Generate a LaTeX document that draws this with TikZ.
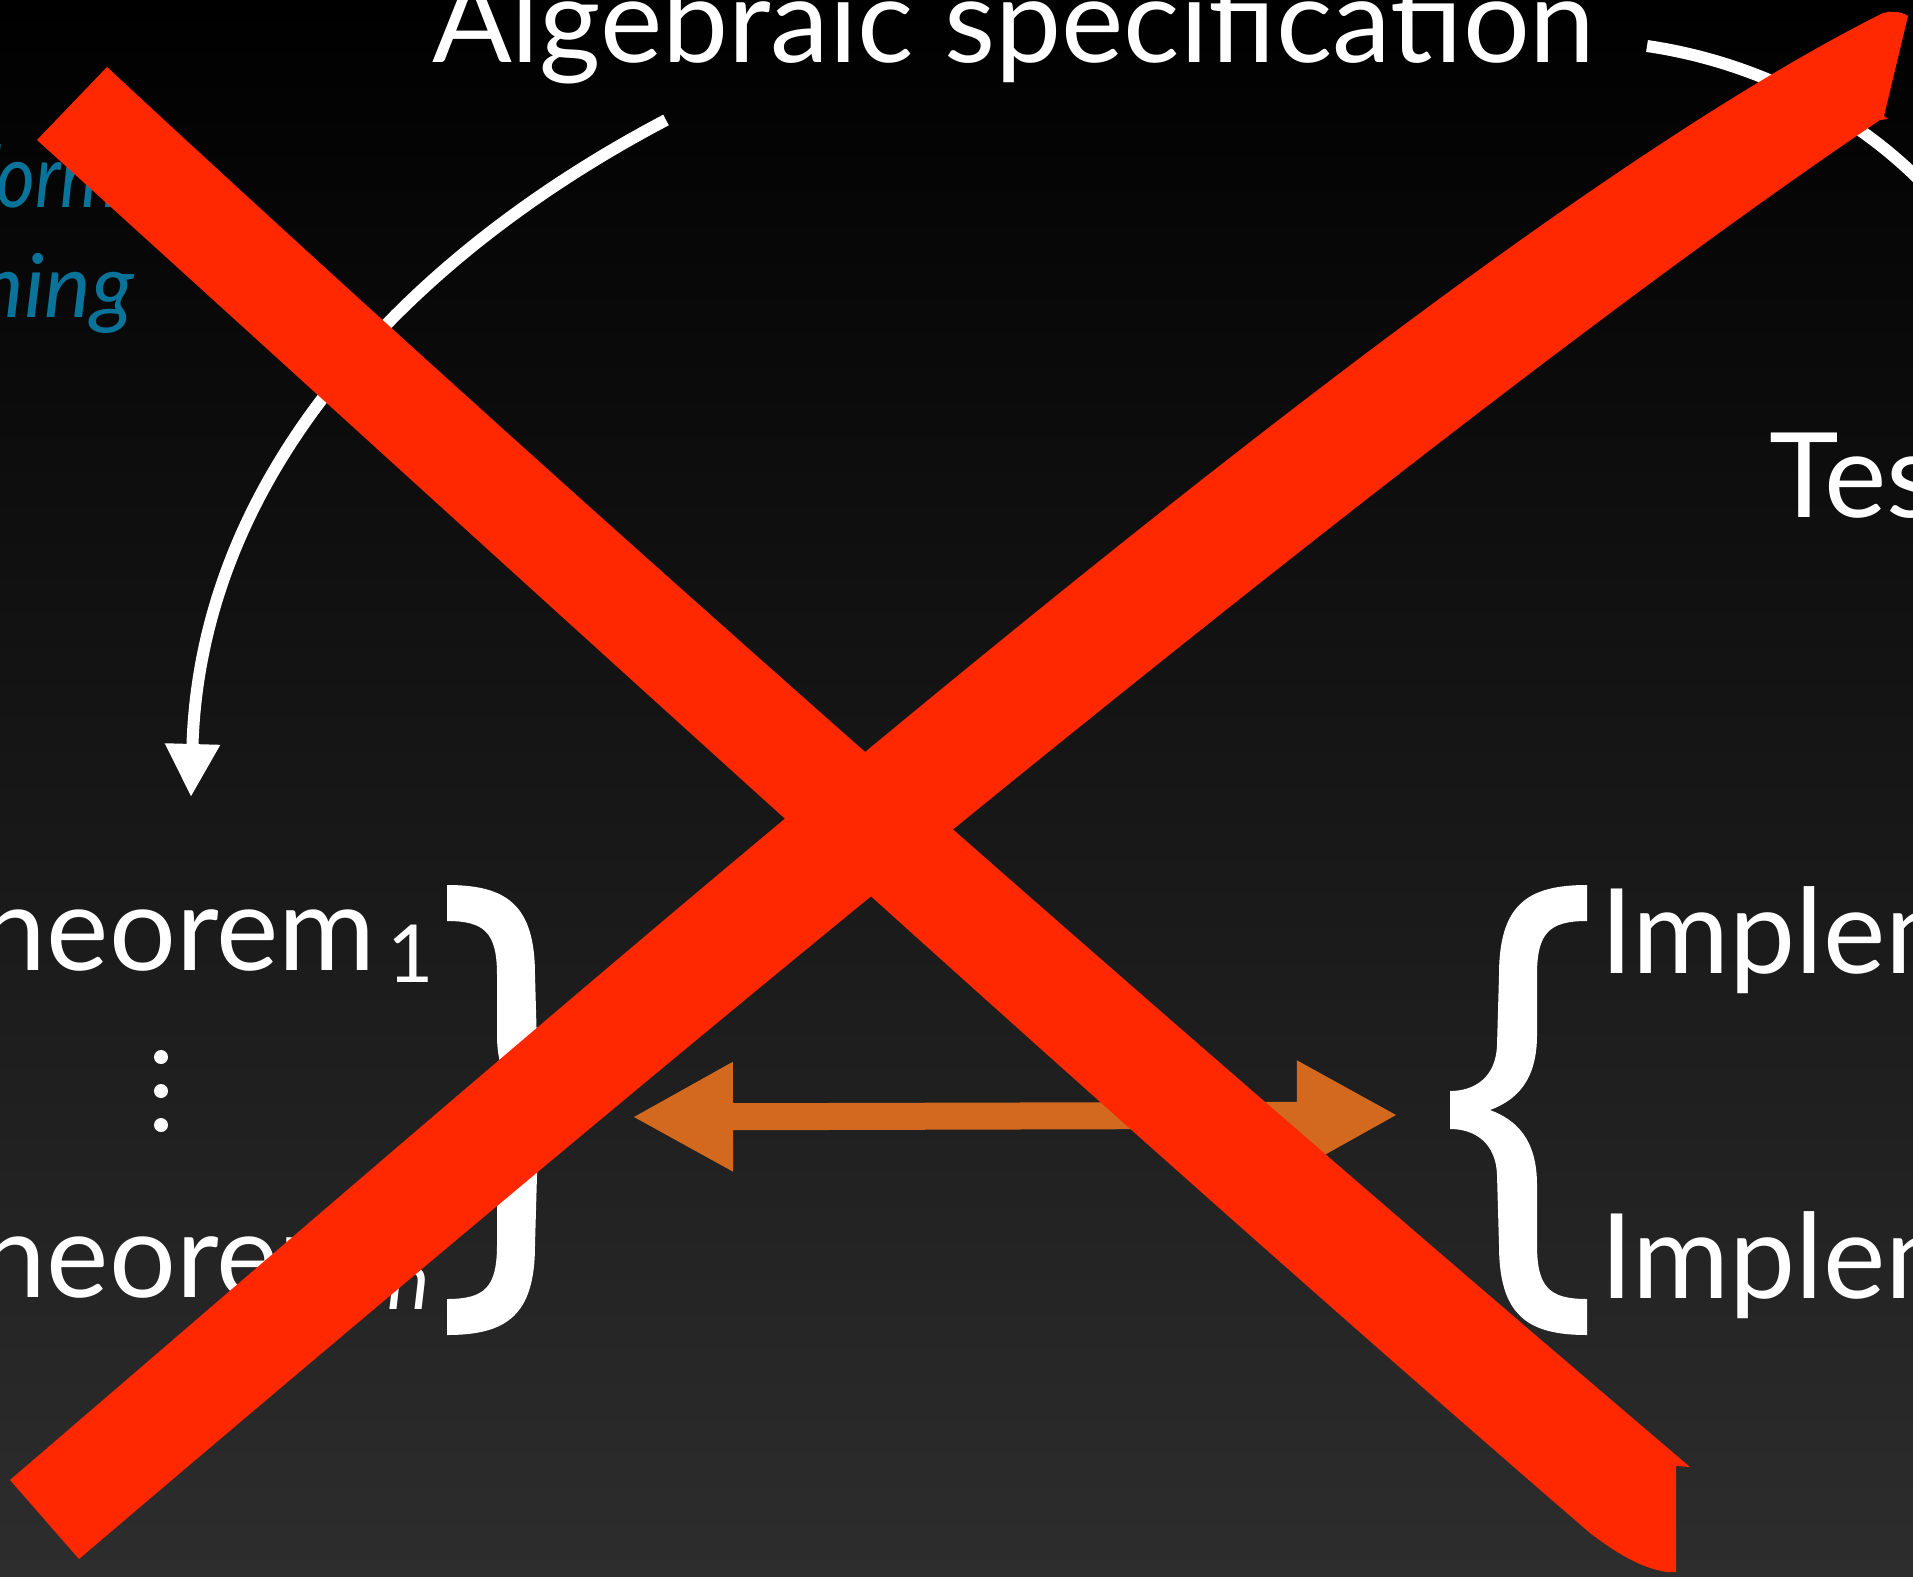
\documentclass[tikz,border=0pt]{standalone}
\usepackage{fontspec}
\setmainfont{Lato}
\usepackage{tikz}
\usetikzlibrary{arrows.meta}
\definecolor{bgbot}{HTML}{2D2D2D}
\definecolor{cred}{HTML}{FF2800}
\definecolor{corange}{HTML}{D2691E}
\definecolor{cblue}{HTML}{0A7399}
\newcommand\slidefont{\fontsize{118}{140}\selectfont}
\newcommand\notesize{\fontsize{88}{110}\selectfont}
\newcommand\subtxt[1]{\rlap{\kern12pt\raisebox{-12pt}{\fontsize{80}{90}\selectfont #1}}}
\tikzset{
  txt/.style  ={inner sep=0pt, text=white, font=\slidefont},
  note/.style ={inner sep=0pt, text=cblue, font=\notesize\itshape},
  ar/.style   ={draw=white, line width=12pt, -{Triangle[length=53pt,width=52pt]}},
  dbl/.style  ={draw=corange, line width=27pt,
                {Triangle[length=101pt,width=102pt]}-{Triangle[length=101pt,width=102pt]}},
  cross/.style={fill=cred},
  curly/.pic  ={
    \fill[white] (0,0) -- (0,36)
      .. controls (-38,36) and (-50,48) .. (-50,90) -- (-50,150)
      .. controls (-50,195) and (-70,215) .. (-97,225)
      .. controls (-70,235) and (-50,255) .. (-50,300) -- (-50,360)
      .. controls (-50,402) and (-38,414) .. (0,414) -- (0,450)
      .. controls (-60,450) and (-88,430) .. (-88,360) -- (-90,290)
      .. controls (-91,258) and (-112,244) .. (-137,244) -- (-137,206)
      .. controls (-112,206) and (-91,192) .. (-90,160) -- (-88,90)
      .. controls (-88,20) and (-60,0) .. (0,0) -- cycle;
  },
}
\begin{document}
\begin{tikzpicture}[x=1pt,y=-1pt]
\useasboundingbox (0,0) rectangle (1913,1576);
\clip (0,0) rectangle (1913,1576);
\shade[top color=black, bottom color=bgbot] (0,0) rectangle (1913,1576);

\node[txt, anchor=base west] (spec) at (432,63) {Algebraic specification};
\node[txt, anchor=base west] (test) at (1769,517) {Testing};
\node[note, anchor=base west] (frm) at (-40,207) {\scalebox{0.85}[1]{Formal}};
\node[note, anchor=base east] (rsn) at (134,317) {reasoning};

% theorems and implementations
\node[txt, anchor=base east] (thm1) at (376,970) {Theorem\subtxt{1}};
\node[txt, anchor=base east] (thmn) at (376,1297) {Theorem\subtxt{\itshape n}};
\foreach \y in {1057,1091,1125}
  \fill[white] (161,\y) circle (7pt);
\node[txt, anchor=base west] (imp1) at (1600,973) {Implementation\subtxt{1}};
\node[txt, anchor=base west] (impn) at (1600,1298) {Implementation\subtxt{\itshape n}};
\pic[xscale=-1] at (447,885) {curly};
\pic at (1587,885) {curly};

\coordinate (specl) at (666,120);
\coordinate (specr) at (1647,46);
\coordinate (thmtip) at (191,797);
\coordinate (testtip) at (2010,300);
\coordinate (lb) at (632,1117);
\coordinate (rb) at (1398,1115);
\draw[ar] (specl) .. controls (400,260) and (200,480) .. (thmtip);
\draw[ar] (specr) .. controls (1770,64) and (1900,130) .. (testtip);
\draw[dbl] (lb) -- (rb);

% the big red cross
\fill[cross] (37,140) -- (107,67)
  .. controls (600,525) and (1200,1050) .. (1690,1467)
  -- (1676,1466) -- (1676,1572) -- (1667,1572)
  .. controls (1640,1568) and (1615,1552) .. (1590,1533)
  .. controls (1100,1110) and (550,605) .. (37,140) -- cycle;
\fill[cross] (10,1480) -- (79,1559)
  .. controls (700,1030) and (1450,410) .. (1880,120)
  -- (1888,119) -- (1884,116) -- (1908,16)
  .. controls (1900,11) and (1892,11) .. (1883,13)
  .. controls (1450,230) and (650,930) .. (10,1480) -- cycle;
\end{tikzpicture}
\end{document}
